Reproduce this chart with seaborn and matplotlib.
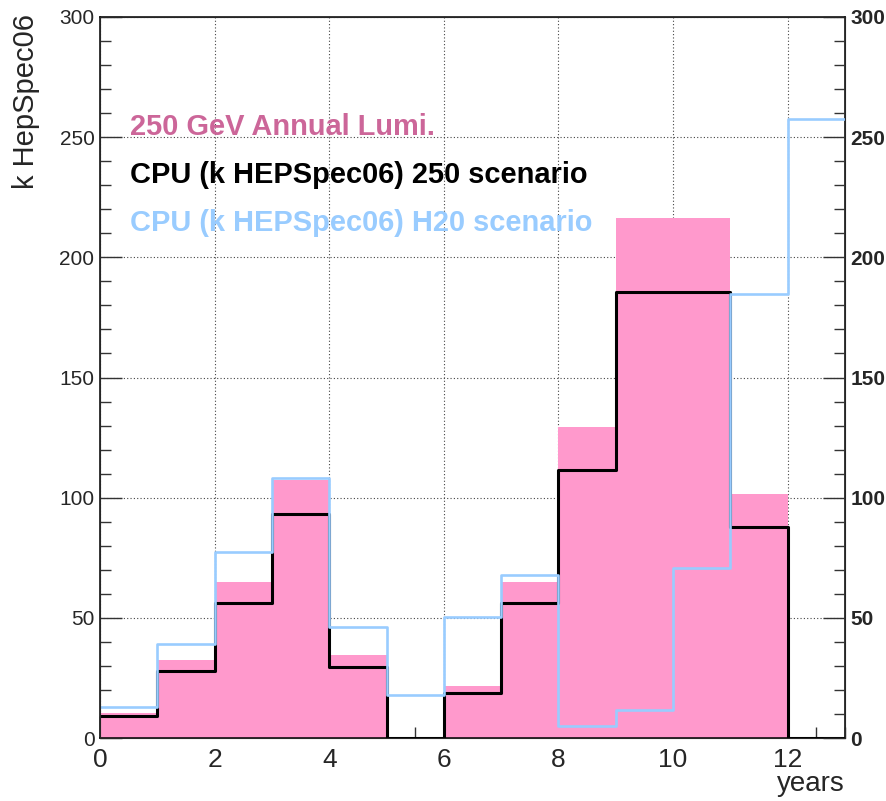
import numpy as np
import pandas as pd
import matplotlib
matplotlib.use("Agg")
from matplotlib import pyplot as plt
from matplotlib.ticker import MultipleLocator
import seaborn as sns

# bin lower edges (years) and the three histograms
years = [0, 1, 2, 3, 4, 5, 6, 7, 8, 9, 10, 11, 12]
lumi_250 = [10.5, 32.5, 65, 107.5, 34.5, 0, 21.5, 65, 129.5, 216.5, 216.5, 101.5, 0]
cpu_250 = [9.3, 28, 56, 93, 29.7, 0, 18.7, 56, 111.5, 185.5, 185.5, 88, 0]
cpu_h20 = [12.8, 39, 77.3, 108, 46.2, 17.7, 50.5, 67.8, 5.2, 11.6, 70.7, 184.8, 257.5]

labels = ['250 GeV Annual Lumi.', 'CPU (k HEPSpec06) 250 scenario', 'CPU (k HEPSpec06) H20 scenario']

PINK = '#ff99cc'
PINK_TXT = '#cc6699'
BLUE = '#99ccff'

sns.set_style('white')
plt.rcParams['font.family'] = ['Liberation Sans', 'DejaVu Sans']

df = pd.DataFrame({'year': np.array(years) + 0.5, 'lumi': lumi_250,
                   'cpu250': cpu_250, 'cpuh20': cpu_h20})
bins = list(range(14))

fig = plt.figure(figsize=(8.87, 8.01), dpi=100)
ax = fig.add_axes([100 / 887, 63 / 801, 745 / 887, 721 / 801])

sns.histplot(data=df, x='year', weights='lumi', bins=bins, element='step', fill=True,
             color=PINK, alpha=1, linewidth=0, ax=ax, zorder=2)
sns.histplot(data=df, x='year', weights='cpu250', bins=bins, element='step', fill=False,
             color='black', linewidth=2.2, ax=ax, zorder=3)
sns.histplot(data=df, x='year', weights='cpuh20', bins=bins, element='step', fill=False,
             color=BLUE, linewidth=1.9, ax=ax, zorder=4)

ax.set_xlim(0, 13)
ax.set_ylim(0, 300)
ax.set_xlabel('')
ax.set_ylabel('')
ax.set_axisbelow(True)

ax.xaxis.set_major_locator(MultipleLocator(2))
ax.xaxis.set_minor_locator(MultipleLocator(0.5))
ax.yaxis.set_major_locator(MultipleLocator(50))
ax.yaxis.set_minor_locator(MultipleLocator(10))
ax.grid(True, which='major', linestyle=(0, (1, 2)), color='#444444', linewidth=0.8)

ax.tick_params(axis='x', which='both', direction='in', bottom=True, top=False,
               color='#333333', labelsize=19, pad=7)
ax.tick_params(axis='x', which='major', length=16, width=1)
ax.tick_params(axis='x', which='minor', length=8, width=1)
ax.tick_params(axis='y', which='both', direction='in', left=True, right=False,
               color='#333333', labelsize=15, pad=4)
ax.tick_params(axis='y', which='major', length=16, width=1)
ax.tick_params(axis='y', which='minor', length=8, width=1)
for s in ax.spines.values():
    s.set_color('black')
    s.set_linewidth(1.1)

# right-hand axis with bold labels
ax2 = ax.twinx()
ax2.set_ylim(0, 300)
ax2.yaxis.set_major_locator(MultipleLocator(50))
ax2.yaxis.set_minor_locator(MultipleLocator(10))
ax2.tick_params(axis='y', which='both', direction='in', right=True, left=False,
                color='#333333', labelsize=15, pad=4)
ax2.tick_params(axis='y', which='major', length=16, width=1)
ax2.tick_params(axis='y', which='minor', length=8, width=1)
for t in ax2.get_yticklabels():
    t.set_fontweight('bold')
ax2.grid(False)

# legend-like text lines
ax.text(0.52, 251, labels[0], color=PINK_TXT, fontsize=20.9, fontweight='bold', va='baseline', zorder=1)
ax.text(0.52, 231, labels[1], color='black', fontsize=20.9, fontweight='bold', va='baseline', zorder=1)
ax.text(0.52, 211, labels[2], color=BLUE, fontsize=20.9, fontweight='bold', va='baseline', zorder=1)

fig.text(26 / 887, 1 - 14 / 801, 'k HepSpec06', rotation=90, ha='center', va='top', fontsize=21)
fig.text(845 / 887, 1 - 791 / 801, 'years', ha='right', va='baseline', fontsize=20)

fig.savefig('out.png', dpi=100)
